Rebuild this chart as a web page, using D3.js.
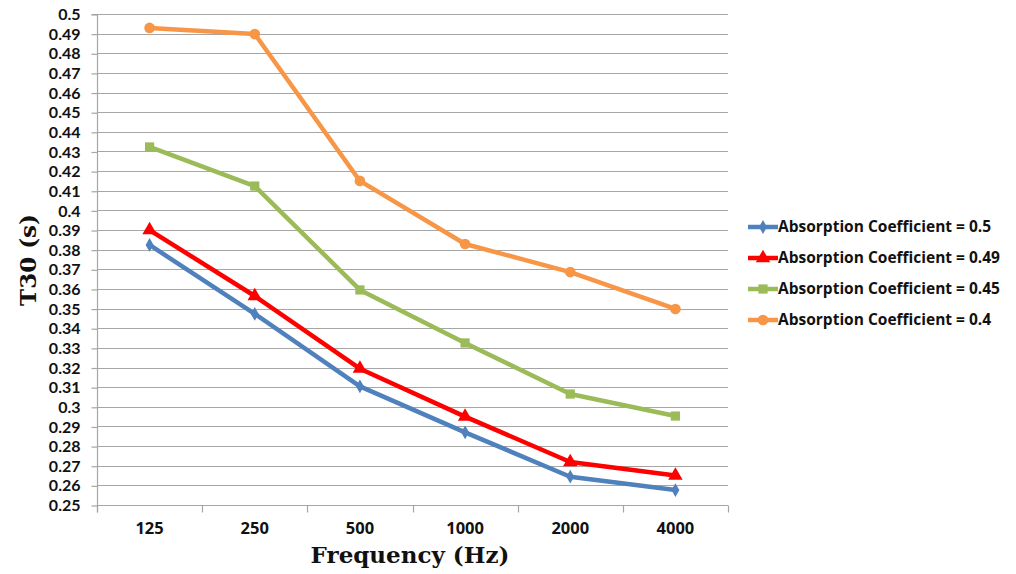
<!DOCTYPE html>
<html>
<head>
<meta charset="utf-8">
<script src="https://cdn.jsdelivr.net/npm/d3@7/dist/d3.min.js"></script>
<style>
  html, body { margin: 0; padding: 0; background: #fff; }
  svg { display: block; }
</style>
</head>
<body>
<svg id="chart" width="1016" height="574"></svg>
<script>
// Reverberation time T30 per octave band for four absorption coefficients
const frequencies = ["125", "250", "500", "1000", "2000", "4000"];
const seriesNames = [
  "Absorption Coefficient = 0.5",
  "Absorption Coefficient = 0.49",
  "Absorption Coefficient = 0.45",
  "Absorption Coefficient = 0.4"
];
const t30Alpha050 = [0.3824, 0.3473, 0.3104, 0.2870, 0.2644, 0.2576];
const t30Alpha049 = [0.3900, 0.3564, 0.3194, 0.2950, 0.2719, 0.2650];
const t30Alpha045 = [0.4323, 0.4124, 0.3595, 0.3325, 0.3065, 0.2953];
const t30Alpha040 = [0.4929, 0.4898, 0.4150, 0.3829, 0.3686, 0.3498];
const yTicks = d3.range(25, 51).map(d => d / 100);

const seriesValues = [t30Alpha050, t30Alpha049, t30Alpha045, t30Alpha040];
const colors = ["#4F81BD", "#FF0000", "#9BBB59", "#F79646"];
const symbols = [d3.symbolDiamond, d3.symbolTriangle, d3.symbolSquare, d3.symbolCircle];
const symbolSizes = [55, 90, 85, 90];

const svg = d3.select("#chart");
const plot = { left: 97, right: 728, top: 14, bottom: 505 };

const x = d3.scaleBand().domain(frequencies).range([plot.left, plot.right]);
const y = d3.scaleLinear().domain([0.25, 0.5]).range([plot.bottom, plot.top]);

const labelFont = "'Open Sans', Lato, sans-serif";
const tickFont = "Lato, 'Open Sans', sans-serif";
const titleFont = "'DejaVu Serif', serif";
const gridColor = "#a6a6a6";

// horizontal gridlines
svg.append("g")
  .selectAll("line")
  .data(yTicks)
  .join("line")
  .attr("x1", plot.left).attr("x2", plot.right)
  .attr("y1", d => Math.round(y(d)) + 0.5).attr("y2", d => Math.round(y(d)) + 0.5)
  .attr("stroke", gridColor).attr("stroke-width", 1.2);

// y axis
const yAxis = d3.axisLeft(y)
  .tickValues(yTicks)
  .tickSize(6)
  .tickPadding(11)
  .tickFormat(d => String(+d.toFixed(2)));
const gy = svg.append("g")
  .attr("transform", `translate(${plot.left + 0.5},0.5)`)
  .call(yAxis);
gy.select(".domain").attr("stroke", gridColor).attr("stroke-width", 1.2)
  .attr("d", `M-6,${plot.top}H0V${plot.bottom + 7}`);
gy.selectAll(".tick line").attr("stroke", gridColor).attr("stroke-width", 1.2);
gy.selectAll(".tick text")
  .attr("font-family", tickFont).attr("font-weight", "bold")
  .attr("font-size", 16).attr("fill", "#111");

// x axis: category labels centered, boundary ticks between categories
const xAxis = d3.axisBottom(x).tickSize(0).tickPadding(17);
const gx = svg.append("g")
  .attr("transform", `translate(0,${plot.bottom + 0.5})`)
  .call(xAxis);
gx.select(".domain").attr("stroke", gridColor).attr("stroke-width", 1.2)
  .attr("d", `M${plot.left},0H${plot.right}`);
gx.selectAll(".tick text")
  .attr("font-family", labelFont).attr("font-weight", "bold")
  .attr("font-size", 16.5).attr("fill", "#111");
gx.append("g")
  .selectAll("line")
  .data(frequencies.concat([null]))
  .join("line")
  .attr("x1", (d, i) => Math.round(plot.left + i * x.step()) + 0.5)
  .attr("x2", (d, i) => Math.round(plot.left + i * x.step()) + 0.5)
  .attr("y1", 0).attr("y2", 7)
  .attr("stroke", gridColor).attr("stroke-width", 1.2);

// series lines and markers
const line = d3.line()
  .x((d, i) => x(frequencies[i]) + x.bandwidth() / 2)
  .y(d => y(d));

seriesValues.forEach((vals, s) => {
  const g = svg.append("g");
  g.append("path")
    .attr("d", line(vals))
    .attr("fill", "none")
    .attr("stroke", colors[s])
    .attr("stroke-width", 4.5)
    .attr("stroke-linejoin", "round");
  g.selectAll("path.marker")
    .data(vals)
    .join("path")
    .attr("class", "marker")
    .attr("transform", (d, i) => `translate(${x(frequencies[i]) + x.bandwidth() / 2},${y(d)})`)
    .attr("d", d3.symbol().type(symbols[s]).size(symbolSizes[s]))
    .attr("fill", colors[s]);
});

// legend
const legend = svg.append("g").attr("transform", "translate(748,227)");
seriesNames.forEach((name, s) => {
  const row = legend.append("g").attr("transform", `translate(0,${s * 31})`);
  row.append("line")
    .attr("x1", 0).attr("x2", 30).attr("y1", 0).attr("y2", 0)
    .attr("stroke", colors[s]).attr("stroke-width", 4.5);
  row.append("path")
    .attr("transform", "translate(15,0)")
    .attr("d", d3.symbol().type(symbols[s]).size(symbolSizes[s]))
    .attr("fill", colors[s]);
  row.append("text")
    .attr("x", 30).attr("y", 0).attr("dy", "0.35em")
    .attr("font-family", labelFont).attr("font-weight", "bold")
    .attr("font-size", 15.5).attr("fill", "#111")
    .text(name);
});

// axis titles
svg.append("text")
  .attr("x", 410).attr("y", 563)
  .attr("text-anchor", "middle")
  .attr("font-family", titleFont).attr("font-weight", "bold")
  .attr("font-size", 23).attr("fill", "#111")
  .text("Frequency (Hz)");

svg.append("text")
  .attr("transform", "translate(36,260) rotate(-90)")
  .attr("text-anchor", "middle")
  .attr("font-family", titleFont).attr("font-weight", "bold")
  .attr("font-size", 23).attr("fill", "#111")
  .text("T30 (s)");
</script>
</body>
</html>
